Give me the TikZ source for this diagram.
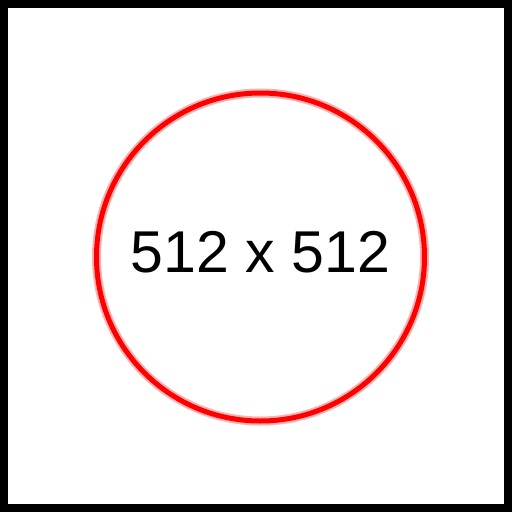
\documentclass[tikz,border=0pt]{standalone}
\usepackage{fontspec}
\setmainfont{Liberation Sans}
\begin{document}
\begin{tikzpicture}[x=1pt,y=-1pt,
  frame/.style={draw=black,line width=8pt},
  ring/.style={draw=red,line width=5pt},
  ringglow/.style={draw=red!30,line width=9pt},
  label/.style={font=\fontsize{59}{61}\selectfont,text=black,inner sep=0pt}]
\useasboundingbox (0,0) rectangle (512,512);
\fill[white] (0,0) rectangle (512,512);
\draw[frame] (4,4) rectangle (508,508);
\draw[ringglow] (260.5,257) circle[radius=164];
\draw[ring] (260.5,257) circle[radius=164];
\node[label] (t) at (260.5,252) {512 x 512};
\end{tikzpicture}
\end{document}
